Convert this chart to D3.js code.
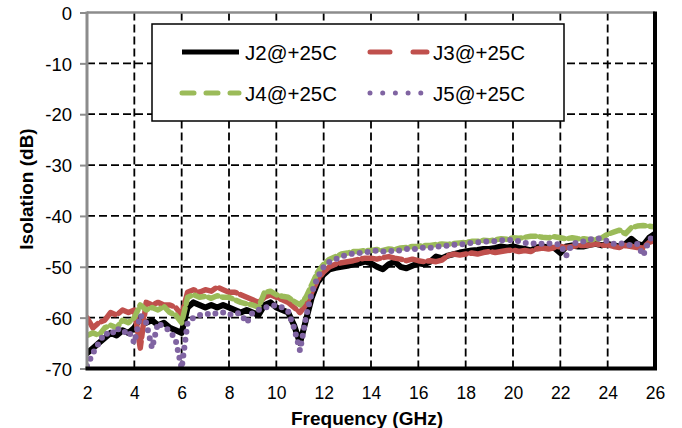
<!DOCTYPE html>
<html>
<head>
<meta charset="utf-8">
<script src="https://cdn.jsdelivr.net/npm/d3@7/dist/d3.min.js"></script>
<style>
  html, body { margin: 0; padding: 0; background: #fff; }
  svg { display: block; font-family: "Liberation Sans", Arial, sans-serif; }
</style>
</head>
<body>
<svg id="chart" width="682" height="428"></svg>
<script>
const freq = [2,2.25,2.5,2.75,3,3.25,3.5,3.75,4,4.25,4.5,4.75,5,5.25,5.5,5.75,6,6.25,6.5,6.75,7,7.25,7.5,7.75,8,8.25,8.5,8.75,9,9.25,9.5,9.75,10,10.25,10.5,10.75,11,11.25,11.5,11.75,12,12.25,12.5,12.75,13,13.25,13.5,13.75,14,14.25,14.5,14.75,15,15.25,15.5,15.75,16,16.25,16.5,16.75,17,17.25,17.5,17.75,18,18.25,18.5,18.75,19,19.25,19.5,19.75,20,20.25,20.5,20.75,21,21.25,21.5,21.75,22,22.25,22.5,22.75,23,23.25,23.5,23.75,24,24.25,24.5,24.75,25,25.25,25.5,25.75,26];

const j2 = [-67,-66,-65,-64,-63,-63.5,-62.5,-63,-62,-60,-61,-60.5,-61.5,-61,-62,-62.5,-63,-58,-57,-57.5,-58,-57.5,-58,-57.5,-58,-58.5,-59,-58.5,-59,-59.5,-57.5,-57,-58,-58.5,-59,-61.5,-65,-60.5,-56,-53,-51.5,-50.5,-50.2,-50,-49.8,-49.5,-49.3,-49,-49.3,-50,-50.5,-49.5,-49,-50,-50.3,-49.8,-49.3,-49.5,-49,-48,-48.3,-47.8,-47.5,-47.2,-47,-46.8,-46.7,-46.5,-46.5,-46.3,-46,-46.2,-46,-46.3,-46.5,-46.8,-46.2,-46,-46.2,-46.3,-47.3,-46,-45.8,-46,-46,-45.7,-45.5,-45.8,-45.5,-45.8,-46,-45.5,-44.5,-45.5,-45.8,-44.3,-43.5];

const j3 = [-60,-62,-61,-60.5,-59,-59.5,-58.5,-59,-58.5,-66,-57,-57.5,-57,-57.5,-57.5,-58,-59.5,-55,-54.5,-55,-54.5,-54.8,-54,-54.5,-55,-55,-55.5,-56,-56.5,-57,-56,-55.5,-56,-56.5,-57,-58,-59,-57.5,-55,-52.5,-51,-50,-49.5,-49.2,-49,-48.8,-48.5,-48.3,-48.3,-48.5,-48.2,-48,-48.3,-48.5,-48.8,-48.5,-48.8,-49,-48.8,-49,-48.7,-47.8,-47.5,-47.7,-47.5,-47.3,-47.5,-47.2,-47,-47.2,-47,-46.8,-46.7,-47,-46.8,-47,-46.5,-46.3,-46.5,-46.2,-46,-46.2,-46,-45.8,-45.8,-45.7,-45.5,-45.8,-45.7,-46,-46.2,-45.8,-46,-46.2,-46.3,-45.2,-44.8];

const j4 = [-63.5,-63,-63.5,-62,-61.5,-62,-60.5,-61,-60,-57.5,-58.5,-58,-58.5,-57.8,-59,-59.5,-61,-56,-55.5,-56,-55.8,-56.2,-55.7,-56,-56,-56.5,-57,-57.3,-57.5,-58,-55,-54.8,-55.5,-55.8,-56,-56.8,-57.5,-56,-53.5,-51,-49.5,-48.5,-48,-47.5,-47.3,-47,-47,-46.8,-46.8,-46.6,-46.8,-46.5,-46.6,-46.3,-46.2,-46,-46,-45.8,-45.8,-45.6,-45.5,-45.6,-45.4,-45.3,-45.2,-45,-45,-44.8,-44.9,-44.7,-44.5,-44.6,-44.3,-44.4,-44.2,-44,-44,-44.2,-44.3,-44.1,-44.3,-44.5,-44.3,-44.5,-44.5,-44.7,-44.6,-44.3,-43.6,-43.2,-42.8,-43.5,-42.3,-42,-41.9,-42,-42.2];

const j5 = [-69.5,-67,-65,-63,-63.5,-62,-63,-62.5,-65,-59.5,-61,-66,-61,-62,-62.5,-64.5,-70,-61,-60,-59.5,-59.5,-59,-59.3,-59,-59.5,-59,-59.3,-61,-59,-58.5,-58,-57.8,-57.5,-58,-58.8,-62,-66.5,-60,-55,-52,-50,-49,-48.5,-48,-47.6,-47.4,-47.3,-47.2,-47,-46.8,-47,-46.8,-47,-46.7,-46.5,-46.6,-46.4,-46.2,-46.3,-46,-46,-45.8,-45.7,-45.6,-45.5,-45.3,-45.2,-45.1,-45,-45,-44.8,-44.8,-44.7,-45,-45.3,-45.5,-45.3,-45.5,-45.4,-45.5,-45.6,-47.8,-45.5,-45.2,-45,-44.6,-44.4,-44.5,-45,-45.5,-45.3,-45.6,-45.8,-45.5,-47.8,-44.8,-43.5];

const seriesNames = ["J2@+25C", "J3@+25C", "J4@+25C", "J5@+25C"];
const seriesValues = [j2, j3, j4, j5];
const xTicks = [2,4,6,8,10,12,14,16,18,20,22,24,26];
const yTicks = [0,-10,-20,-30,-40,-50,-60,-70];

const colors = ["#000000", "#C0504D", "#9BBB59", "#8064A2"];
const plotDash = [null, "18,4.5", "10,4.5", "0,8"];
const legendDash = [null, "20,23", "12,12", "0,12.7"];
const widths = [6, 5.5, 5.5, 6];

const L = 87, R = 655, T = 12.5, B = 368.5;
const svg = d3.select("#chart");
const x = d3.scaleLinear().domain([2, 26]).range([L, R]);
const y = d3.scaleLinear().domain([-70, 0]).range([B, T]);
const fmt = d => String(d);

svg.append("defs").append("clipPath").attr("id", "clip")
  .append("rect").attr("x", L).attr("y", T).attr("width", R - L).attr("height", B - T);

// gridlines
const grid = svg.append("g");
grid.selectAll("line.v").data(xTicks.filter(d => d > 2 && d < 26)).join("line")
  .attr("x1", d => x(d)).attr("x2", d => x(d)).attr("y1", T).attr("y2", B)
  .attr("stroke", "#000").attr("stroke-width", 1.8).attr("stroke-dasharray", "8,4");
grid.selectAll("line.h").data(yTicks.filter(d => d < 0 && d > -70)).join("line")
  .attr("x1", L).attr("x2", R).attr("y1", d => y(d)).attr("y2", d => y(d))
  .attr("stroke", "#000").attr("stroke-width", 1.8).attr("stroke-dasharray", "8,4");

// axes
const yAxis = d3.axisLeft(y).tickValues(yTicks).tickSize(7).tickFormat(fmt);
const gy = svg.append("g").attr("transform", `translate(${L},0)`).call(yAxis);
gy.select(".domain").remove();
gy.selectAll(".tick line").attr("stroke", "#8c8c8c").attr("stroke-width", 2);
gy.selectAll(".tick text").attr("font-size", 18.5).attr("fill", "#000")
  .attr("font-family", "Liberation Sans, Arial, sans-serif").attr("x", -15).attr("dy", "0.36em");

const xAxis = d3.axisBottom(x).tickValues(xTicks).tickSize(0).tickFormat(fmt);
const gx = svg.append("g").attr("transform", `translate(0,${B})`).call(xAxis);
gx.select(".domain").remove();
gx.selectAll(".tick text").attr("font-size", 17.5).attr("fill", "#000")
  .attr("font-family", "Liberation Sans, Arial, sans-serif").attr("y", 18.5).attr("dy", "0.71em");

// series
const line = d3.line().x((d, i) => x(freq[i])).y(d => y(d)).curve(d3.curveLinear);
const plot = svg.append("g").attr("clip-path", "url(#clip)");
seriesValues.forEach((vals, k) => {
  plot.append("path").datum(vals).attr("d", line)
    .attr("fill", "none").attr("stroke", colors[k]).attr("stroke-width", widths[k])
    .attr("stroke-linejoin", "round").attr("stroke-linecap", "round")
    .attr("stroke-dasharray", plotDash[k]);
});

// frame
svg.append("line").attr("x1", L).attr("x2", R).attr("y1", T).attr("y2", T)
  .attr("stroke", "#8c8c8c").attr("stroke-width", 2.5);
svg.append("line").attr("x1", L).attr("x2", L).attr("y1", T - 1).attr("y2", B)
  .attr("stroke", "#8c8c8c").attr("stroke-width", 3);
svg.append("line").attr("x1", L - 1.5).attr("x2", R + 2).attr("y1", B).attr("y2", B)
  .attr("stroke", "#000").attr("stroke-width", 4);
svg.append("line").attr("x1", R).attr("x2", R).attr("y1", T - 1).attr("y2", B)
  .attr("stroke", "#000").attr("stroke-width", 4);

// axis titles
svg.append("text").attr("x", 443).attr("y", 424.5).attr("text-anchor", "end")
  .attr("font-size", 19).attr("font-weight", "bold").text("Frequency (GHz)");
svg.append("text").attr("transform", "translate(33,189) rotate(-90)").attr("text-anchor", "middle")
  .attr("font-size", 19).attr("font-weight", "bold").text("Isolation (dB)");

// legend
const lg = svg.append("g");
lg.append("rect").attr("x", 152).attr("y", 24).attr("width", 412).attr("height", 97)
  .attr("fill", "#fff").attr("stroke", "#000").attr("stroke-width", 1.5);
const legPos = [[182, 52], [370, 52], [182, 93], [370, 93]];
seriesNames.forEach((name, k) => {
  const [lx, ly] = legPos[k];
  lg.append("line").attr("x1", lx).attr("x2", lx + 57).attr("y1", ly).attr("y2", ly)
    .attr("stroke", colors[k]).attr("stroke-width", 5)
    .attr("stroke-linecap", k === 0 ? "butt" : "round")
    .attr("stroke-dasharray", legendDash[k]);
  lg.append("text").attr("x", lx + 63).attr("y", ly).attr("dy", "0.38em")
    .attr("font-size", 20.5).attr("fill", "#000").text(name);
});
</script>
</body>
</html>
